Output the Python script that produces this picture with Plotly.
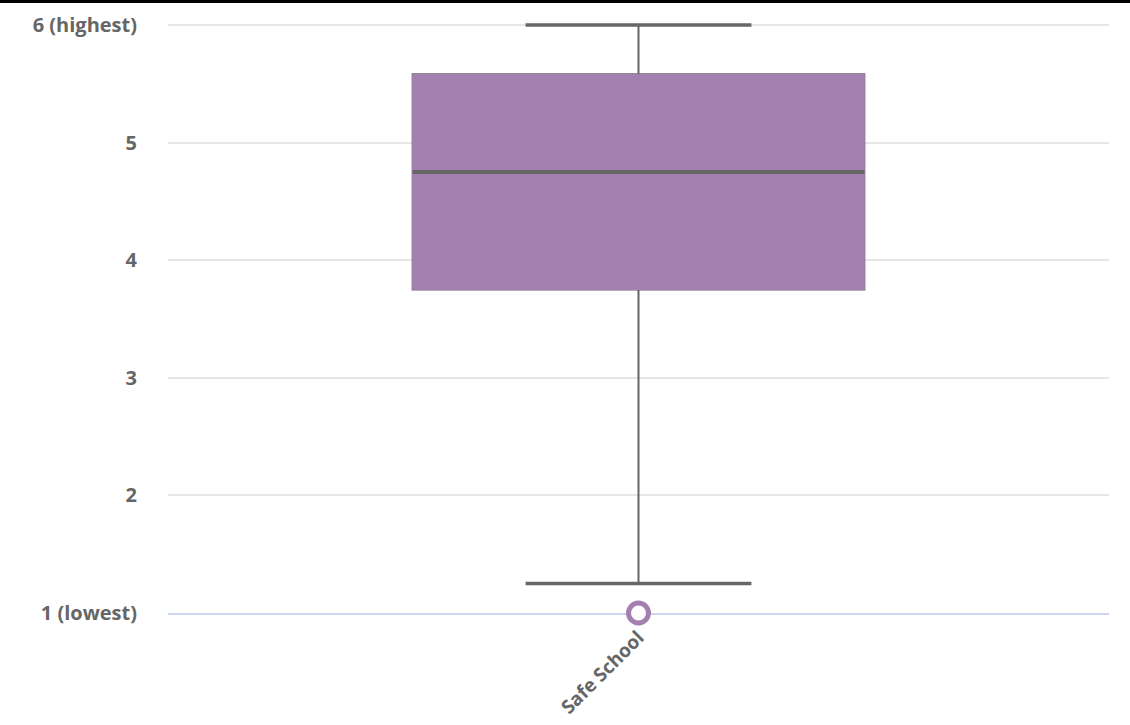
import plotly.graph_objects as go

categories = ["Safe School"]
q1 = [3.75]
median = [4.75]
q3 = [5.58]
lowerfence = [1.25]
upperfence = [6.0]
outliers = [1.0]

tick_vals = [1, 2, 3, 4, 5, 6]
tick_text = ["1 (lowest)", "2", "3", "4", "5", "6 (highest)"]

PURPLE = "#a480b0"
GREY = "#666666"
BOX_W = 0.48

W, H = 1130, 725
L, R, T, B = 168, 21, 19, 112

fig = go.Figure()
# whiskers (grey)
fig.add_trace(go.Box(x=categories, q1=q1, median=median, q3=q3,
                     lowerfence=lowerfence, upperfence=upperfence,
                     width=BOX_W, whiskerwidth=0, fillcolor=PURPLE,
                     line=dict(color=GREY, width=2), boxpoints=False,
                     hoverinfo="skip", showlegend=False))
# whisker caps (thicker)
for fence in (lowerfence, upperfence):
    fig.add_trace(go.Box(x=categories, q1=fence, median=fence, q3=fence,
                         lowerfence=fence, upperfence=fence,
                         width=BOX_W * 0.5, whiskerwidth=0, fillcolor=GREY,
                         line=dict(color=GREY, width=3.5), boxpoints=False,
                         hoverinfo="skip", showlegend=False))
# box body without grey outline
fig.add_trace(go.Box(x=categories, q1=q1, median=median, q3=q3,
                     lowerfence=q1, upperfence=q3,
                     width=BOX_W, whiskerwidth=0, fillcolor=PURPLE,
                     line=dict(color=PURPLE, width=1), boxpoints=False,
                     showlegend=False))
# median line
fig.add_trace(go.Box(x=categories, q1=median, median=median, q3=median,
                     lowerfence=median, upperfence=median,
                     width=BOX_W, whiskerwidth=0, fillcolor=GREY,
                     line=dict(color=GREY, width=4), boxpoints=False,
                     hoverinfo="skip", showlegend=False))
# outlier
fig.add_trace(go.Scatter(x=categories * len(outliers), y=outliers, mode="markers",
                         marker=dict(symbol="circle", size=20, color="white",
                                     line=dict(color=PURPLE, width=5)),
                         cliponaxis=False, showlegend=False))

plot_h = H - T - B
fig.update_layout(
    width=W, height=H,
    margin=dict(l=L, r=R, t=T, b=B),
    paper_bgcolor="white", plot_bgcolor="white",
    boxmode="overlay",
    font=dict(family="Open Sans", color=GREY),
    xaxis=dict(type="category", range=[-0.5, 0.5], showgrid=False, zeroline=False,
               showline=True, linecolor="#ccd6eb", linewidth=2, layer="below traces",
               tickangle=-45, ticks="", automargin=False, ticklabelstandoff=4,
               tickfont=dict(family="Open Sans", size=19, color=GREY, weight="bold")),
    yaxis=dict(range=[1, 6.05], tickvals=tick_vals, ticktext=tick_text,
               showgrid=True, gridcolor="#e6e6e6", gridwidth=1.5, zeroline=False,
               showline=False, ticks="", ticklabelstandoff=30, automargin=False,
               layer="below traces",
               tickfont=dict(family="Open Sans", size=20, color=GREY, weight="bold")),
    shapes=[
        dict(type="line", xref="paper", yref="paper", x0=-L / (W - L - R), x1=1 + R / (W - L - R),
             y0=1 + (T - 1.5) / plot_h, y1=1 + (T - 1.5) / plot_h,
             line=dict(color="black", width=3)),
    ],
)

fig.write_html("out.html", config={"displayModeBar": False},
               post_script="document.body.style.margin='0';document.body.style.overflow='hidden';")
